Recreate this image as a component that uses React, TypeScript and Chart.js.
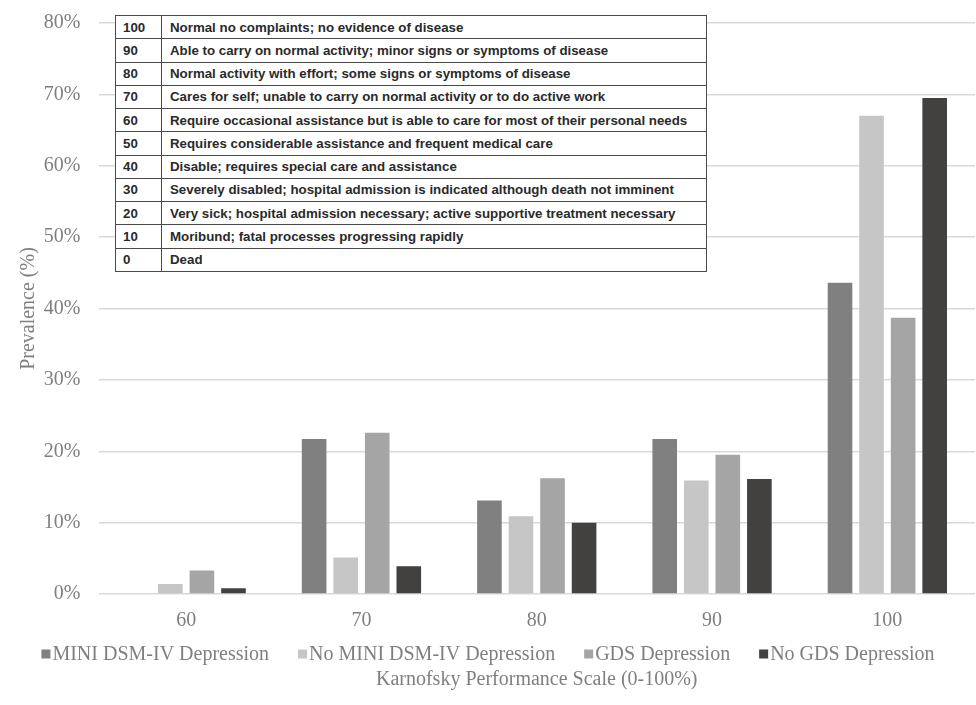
import React, { useEffect, useRef } from "react";
import { Chart, registerables } from "chart.js";

Chart.register(...registerables);

// ---- Data ----
const categories = ["60", "70", "80", "90", "100"];
const seriesLabels = [
  "MINI DSM-IV Depression",
  "No MINI DSM-IV Depression",
  "GDS Depression",
  "No GDS Depression",
];
const miniDepression = [0, 21.7, 13.1, 21.7, 43.6];
const noMiniDepression = [1.4, 5.1, 10.9, 15.9, 67.0];
const gdsDepression = [3.3, 22.6, 16.2, 19.5, 38.7];
const noGdsDepression = [0.8, 3.9, 10.0, 16.1, 69.5];
const yTickValues = [0, 10, 20, 30, 40, 50, 60, 70, 80];
const xAxisTitle = "Karnofsky Performance Scale (0-100%)";
const yAxisTitle = "Prevalence (%)";

const kpsScores = ["100", "90", "80", "70", "60", "50", "40", "30", "20", "10", "0"];
const kpsDescriptions = [
  "Normal no complaints; no evidence of disease",
  "Able to carry on normal activity; minor signs or symptoms of disease",
  "Normal activity with effort; some signs or symptoms of disease",
  "Cares for self; unable to carry on normal activity or to do active work",
  "Require occasional assistance but is able to care for most of their personal needs",
  "Requires considerable assistance and frequent medical care",
  "Disable; requires special care and assistance",
  "Severely disabled; hospital admission is indicated although death not imminent",
  "Very sick; hospital admission necessary; active supportive treatment necessary",
  "Moribund; fatal processes progressing rapidly",
  "Dead",
];

// ---- Styles ----
const seriesColors = ["#808080", "#c6c6c6", "#a5a5a5", "#43413f"];
const textColor = "#7f7f7f";
const serif = "'Liberation Serif', 'Times New Roman', serif";

// Legend drawn between the x tick labels and the x-axis title
const inlineLegend = {
  id: "inlineLegend",
  afterDraw(chart: any) {
    const ctx = chart.ctx as CanvasRenderingContext2D;
    const y = chart.chartArea.bottom + 60;
    const box = 9;
    const boxGap = 2;
    const itemGap = 29;
    ctx.save();
    ctx.font = `20px ${serif}`;
    const items = chart.data.datasets.map((ds: any) => ({
      label: ds.label as string,
      color: ds.backgroundColor as string,
      w: ctx.measureText(ds.label).width,
    }));
    const total =
      items.reduce((s: number, it: any) => s + box + boxGap + it.w, 0) + itemGap * (items.length - 1);
    let x = (chart.width - total) / 2;
    ctx.textBaseline = "middle";
    ctx.textAlign = "left";
    for (const it of items) {
      ctx.fillStyle = it.color;
      ctx.fillRect(x, y - box / 2, box, box);
      ctx.fillStyle = textColor;
      ctx.fillText(it.label, x + box + boxGap, y + 1);
      x += box + boxGap + it.w + itemGap;
    }
    ctx.restore();
  },
};

function KpsTable() {
  return (
    <div
      style={{
        position: "absolute",
        left: 115,
        top: 15,
        width: 592,
        height: 257,
        boxSizing: "border-box",
        border: "1px solid #4a4a4a",
        background: "#ffffff",
        fontFamily: "'Liberation Sans', Arial, sans-serif",
        fontWeight: "bold",
        fontSize: 13.3,
        color: "#2a2a2a",
        display: "flex",
        flexDirection: "column",
      }}
    >
      {kpsScores.map((score, i) => (
        <div
          key={score}
          style={{
            flex: 1,
            display: "flex",
            alignItems: "center",
            borderTop: i === 0 ? "none" : "1px solid #4a4a4a",
            boxSizing: "border-box",
            whiteSpace: "nowrap",
          }}
        >
          <div
            style={{
              width: 46,
              height: "100%",
              boxSizing: "border-box",
              paddingLeft: 7,
              borderRight: "1px solid #4a4a4a",
              display: "flex",
              alignItems: "center",
            }}
          >
            {score}
          </div>
          <div style={{ paddingLeft: 8 }}>{kpsDescriptions[i]}</div>
        </div>
      ))}
    </div>
  );
}

export default function App() {
  const canvasRef = useRef<HTMLCanvasElement | null>(null);

  useEffect(() => {
    if (!canvasRef.current) return;
    const seriesData = [miniDepression, noMiniDepression, gdsDepression, noGdsDepression];
    const chart = new Chart(canvasRef.current, {
      type: "bar",
      data: {
        labels: categories,
        datasets: seriesLabels.map((label, i) => ({
          label,
          data: seriesData[i],
          backgroundColor: seriesColors[i],
          borderWidth: 0,
          categoryPercentage: 0.72,
          barPercentage: 0.78,
        })),
      },
      plugins: [inlineLegend],
      options: {
        animation: false,
        responsive: true,
        maintainAspectRatio: false,
        layout: { padding: { left: 12, right: 1, top: 23, bottom: 13 } },
        scales: {
          x: {
            grid: { display: false, drawTicks: false },
            border: { display: false },
            ticks: {
              color: textColor,
              font: { family: serif, size: 20 },
              padding: 15,
            },
          },
          y: {
            min: 0,
            max: 80,
            afterBuildTicks: (scale: any) => {
              scale.ticks = yTickValues.map((v) => ({ value: v }));
            },
            afterFit: (scale: any) => {
              scale.width = 86.5;
              scale.paddingTop = 0;
            },
            grid: { color: "#d9d9d9", lineWidth: 1.5, drawTicks: false },
            border: { display: false },
            ticks: {
              color: textColor,
              font: { family: serif, size: 20 },
              padding: 18,
              callback: (v: any) => `${v}%`,
            },
            title: {
              display: true,
              text: yAxisTitle,
              color: textColor,
              font: { family: serif, size: 20 },
              padding: { top: 5, bottom: 0 },
            },
          },
        },
        plugins: {
          legend: { display: false },
          title: {
            display: true,
            position: "bottom",
            fullSize: false,
            text: xAxisTitle,
            color: textColor,
            font: { family: serif, size: 20, weight: "normal" },
            padding: { top: 20, bottom: 0 },
          },
          tooltip: { enabled: false },
        },
      },
    });
    return () => chart.destroy();
  }, []);

  return (
    <div style={{ position: "fixed", left: 0, top: 0, width: 976, height: 705, background: "#fff" }}>
      <canvas ref={canvasRef} />
      <KpsTable />
    </div>
  );
}
